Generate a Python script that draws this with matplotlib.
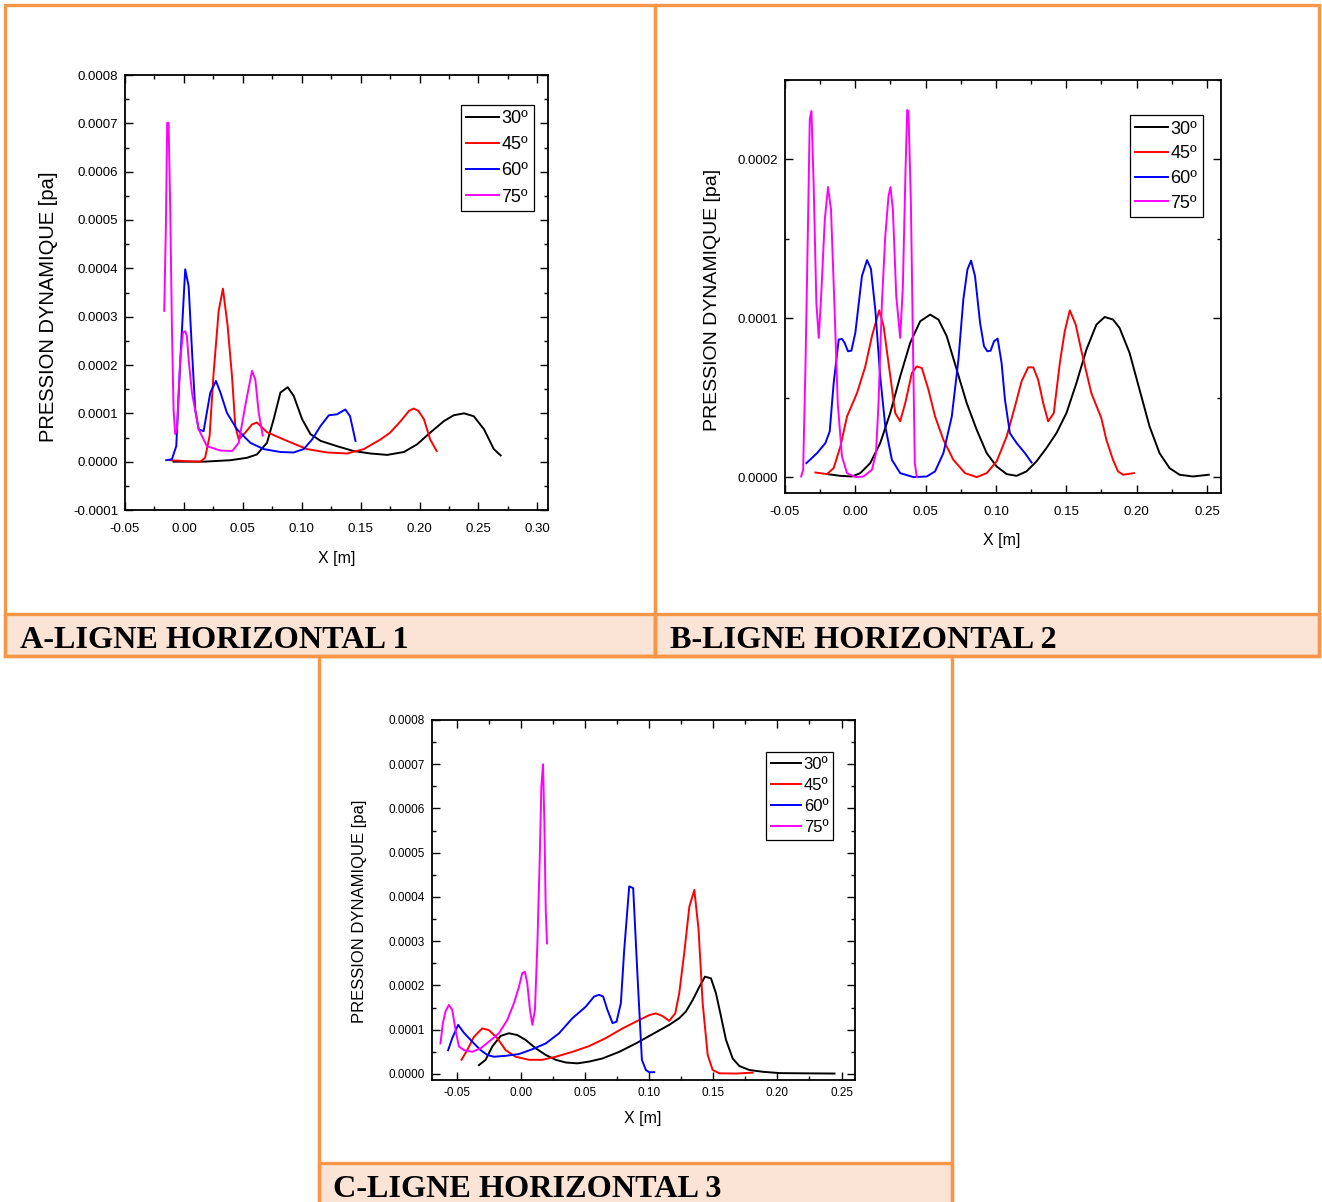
import matplotlib
matplotlib.use("Agg")
import matplotlib.pyplot as plt
from matplotlib.patches import Rectangle
from matplotlib.ticker import MultipleLocator, FormatStrFormatter

W, H = 1322, 1202
SCALE = 1e-4  # pressure values below are in units of 1e-4 pa

angles = ["30º", "45º", "60º", "75º"]
colors = ["black", "#ff0000", "#0000ff", "#ff00ff"]
captions = ["A-LIGNE HORIZONTAL 1", "B-LIGNE HORIZONTAL 2", "C-LIGNE HORIZONTAL 3"]

# ---- panel A : ligne horizontal 1
A_x30 = [-0.0088, 0.0167, 0.0394, 0.0535, 0.062, 0.0705, 0.0762, 0.0819, 0.0881, 0.0932, 0.1003, 0.1074, 0.116,
         0.130, 0.144, 0.158, 0.1725, 0.1867, 0.198, 0.209, 0.2207, 0.229, 0.2377, 0.246, 0.2547, 0.263, 0.2688]
A_y30 = [0, 0, 0.03, 0.08, 0.15, 0.39, 0.88, 1.43, 1.54, 1.36, 0.88, 0.57, 0.43,
         0.32, 0.22, 0.17, 0.14, 0.2, 0.36, 0.6, 0.84, 0.96, 1.0, 0.94, 0.67, 0.26, 0.13]
A_x45 = [-0.0122, 0.0026, 0.0139, 0.018, 0.0218, 0.025, 0.0295, 0.0331, 0.0371, 0.0408, 0.0436, 0.0465, 0.052,
         0.0578, 0.062, 0.0705, 0.0875, 0.1045, 0.1215, 0.1385, 0.1527, 0.1669, 0.175, 0.184, 0.191, 0.195,
         0.199, 0.2037, 0.209, 0.2145]
A_y45 = [0.03, 0.01, 0, 0.08, 0.53, 1.77, 3.12, 3.58, 2.81, 1.77, 0.74, 0.46, 0.6,
         0.77, 0.81, 0.61, 0.43, 0.26, 0.19, 0.17, 0.26, 0.46, 0.6, 0.84, 1.05, 1.10,
         1.05, 0.88, 0.46, 0.22]
A_x60 = [-0.015, -0.0102, -0.0065, -0.003, 0.0011, 0.004, 0.0068, 0.0096, 0.0125, 0.0167, 0.0224, 0.0272, 0.031,
         0.0365, 0.045, 0.0564, 0.0677, 0.082, 0.093, 0.1017, 0.1088, 0.116, 0.123, 0.130, 0.137, 0.141, 0.1456]
A_y60 = [0.03, 0.05, 0.32, 2.12, 3.98, 3.63, 2.32, 1.08, 0.67, 0.63, 1.43, 1.67, 1.43,
         1.01, 0.67, 0.39, 0.26, 0.2, 0.19, 0.26, 0.46, 0.74, 0.96, 0.98, 1.08, 0.94, 0.43]
A_x75 = [-0.0167, -0.0153, -0.0142, -0.0130, -0.0116, -0.0102, -0.0088, -0.0074, -0.0059, -0.0045, -0.0031,
         -0.0008, 0.0011, 0.0025, 0.004, 0.0068, 0.0125, 0.0195, 0.031, 0.041, 0.0465, 0.052, 0.0578, 0.0606,
         0.0635, 0.0669]
A_y75 = [3.12, 4.88, 7.01, 7.01, 5.22, 2.81, 1.08, 0.57, 0.67, 1.43, 2.12,
         2.67, 2.70, 2.6, 2.12, 1.43, 0.67, 0.32, 0.23, 0.22, 0.39, 1.15, 1.88, 1.70,
         1.01, 0.54]

# ---- panel B : ligne horizontal 2
B_x30 = [-0.0201, -0.0106, -0.0024, 0.0035, 0.0106, 0.0177, 0.0248, 0.0319, 0.039, 0.0461, 0.0532, 0.0591, 0.065,
         0.0721, 0.0792, 0.0863, 0.0934, 0.1005, 0.1076, 0.1147, 0.1217, 0.1288, 0.1359, 0.143, 0.1501, 0.1572,
         0.1643, 0.1714, 0.1773, 0.1832, 0.1879, 0.195, 0.2021, 0.2092, 0.2163, 0.2234, 0.2305, 0.24, 0.2513]
B_y30 = [0.019, 0.008, 0.004, 0.025, 0.088, 0.214, 0.403, 0.634, 0.845, 0.981, 1.023, 0.992, 0.887,
         0.676, 0.466, 0.298, 0.151, 0.067, 0.019, 0.008, 0.036, 0.099, 0.183, 0.277, 0.403, 0.592,
         0.803, 0.96, 1.008, 0.992, 0.939, 0.782, 0.55, 0.319, 0.151, 0.057, 0.015, 0.004, 0.015]
B_x45 = [-0.0284, -0.0201, -0.0154, -0.0106, -0.0059, 0.0012, 0.0071, 0.0118, 0.017, 0.0201, 0.0236, 0.0284,
         0.0319, 0.0355, 0.0402, 0.0437, 0.0473, 0.052, 0.0567, 0.0626, 0.0697, 0.078, 0.0863, 0.0934, 0.1005,
         0.1076, 0.1135, 0.1182, 0.1229, 0.1265, 0.13, 0.1336, 0.1371, 0.1411, 0.1454, 0.1489, 0.1525, 0.1567,
         0.1608, 0.1678, 0.1749, 0.1785, 0.1832, 0.1868, 0.1903, 0.1981]
B_y45 = [0.029, 0.019, 0.057, 0.193, 0.382, 0.529, 0.697, 0.887, 1.05, 0.95, 0.718, 0.403,
         0.351, 0.466, 0.655, 0.697, 0.687, 0.55, 0.382, 0.235, 0.109, 0.025, 0.0, 0.025, 0.099,
         0.256, 0.445, 0.603, 0.691, 0.691, 0.613, 0.466, 0.351, 0.403, 0.718, 0.918, 1.05, 0.96,
         0.792, 0.529, 0.372, 0.235, 0.109, 0.036, 0.015, 0.025]
B_x60 = [-0.0348, -0.0272, -0.0213, -0.0182, -0.0154, -0.0118, -0.0095, -0.0076, -0.0052, -0.0028, 0.0, 0.0047,
         0.0083, 0.0111, 0.0142, 0.0177, 0.0213, 0.026, 0.0319, 0.0414, 0.0508, 0.0567, 0.0626, 0.0686, 0.0733,
         0.0768, 0.0797, 0.0823, 0.0851, 0.0887, 0.0915, 0.0939, 0.0962, 0.0986, 0.1012, 0.104, 0.1064, 0.1099,
         0.1147, 0.1206, 0.1253]
B_y60 = [0.088, 0.151, 0.214, 0.288, 0.592, 0.866, 0.87, 0.845, 0.792, 0.796, 0.908, 1.265,
         1.366, 1.311, 1.055, 0.634, 0.319, 0.109, 0.025, 0.0, 0.004, 0.036, 0.151, 0.382, 0.739,
         1.118, 1.307, 1.363, 1.265, 0.971, 0.824, 0.792, 0.796, 0.855, 0.872, 0.718, 0.487, 0.277,
         0.214, 0.151, 0.092]
B_x75 = [-0.0385, -0.0371, -0.0355, -0.0338, -0.0324, -0.0312, -0.0296, -0.0277, -0.026, -0.0243, -0.0217,
         -0.0194, -0.0173, -0.0149, -0.0125, -0.0095, -0.0059, 0.0, 0.0059, 0.0118, 0.0147, 0.0165, 0.0189,
         0.0213, 0.0236, 0.025, 0.0267, 0.0291, 0.0319, 0.0338, 0.0357, 0.0369, 0.0378, 0.0395, 0.0409,
         0.0423, 0.0437]
B_y75 = [0.004, 0.046, 0.676, 1.517, 2.252, 2.305, 1.832, 1.097, 0.876, 1.139, 1.622,
         1.826, 1.685, 1.097, 0.466, 0.13, 0.025, 0.0, 0.004, 0.046, 0.151, 0.466, 1.097,
         1.517, 1.769, 1.826, 1.685, 1.139, 0.876, 1.202, 1.937, 2.311, 2.305, 1.727, 0.887,
         0.088, 0.0]

# ---- panel C : ligne horizontal 3
C_x30 = [-0.0328, -0.0276, -0.0224, -0.0159, -0.0094, -0.0029, 0.0036, 0.0115, 0.0193, 0.0271, 0.0349, 0.044,
         0.0531, 0.0635, 0.0766, 0.0896, 0.1026, 0.1156, 0.1234, 0.1286, 0.1339, 0.1391, 0.1435, 0.1482, 0.1521,
         0.156, 0.1599, 0.1651, 0.1703, 0.1781, 0.1885, 0.2016, 0.2198, 0.2445]
C_y30 = [0.2, 0.32, 0.62, 0.86, 0.92, 0.88, 0.77, 0.58, 0.43, 0.32, 0.26, 0.24,
         0.28, 0.35, 0.5, 0.69, 0.9, 1.11, 1.26, 1.41, 1.67, 1.97, 2.2, 2.16, 1.82,
         1.3, 0.77, 0.35, 0.18, 0.09, 0.05, 0.02, 0.015, 0.01]
C_x45 = [-0.0464, -0.0419, -0.0367, -0.0302, -0.025, -0.0185, -0.012, -0.0042, 0.0063, 0.0167, 0.0271, 0.0401,
         0.0531, 0.0661, 0.0792, 0.0922, 0.1, 0.1052, 0.1104, 0.1156, 0.1203, 0.1234, 0.1273, 0.1313, 0.1352,
         0.1385, 0.1417, 0.1456, 0.1495, 0.1547, 0.1677, 0.1807]
C_y45 = [0.32, 0.54, 0.84, 1.03, 0.99, 0.81, 0.54, 0.39, 0.32, 0.32, 0.39, 0.5,
         0.63, 0.81, 1.03, 1.22, 1.33, 1.37, 1.31, 1.2, 1.37, 1.82, 2.73, 3.78, 4.16,
         3.26, 1.6, 0.43, 0.09, 0.015, 0.01, 0.03]
C_x60 = [-0.0568, -0.0536, -0.049, -0.0445, -0.038, -0.0315, -0.0263, -0.0211, -0.012, -0.0016, 0.0089, 0.0193,
         0.0297, 0.0401, 0.0505, 0.057, 0.0609, 0.0641, 0.0674, 0.0714, 0.0745, 0.0779, 0.0805, 0.0844, 0.0875,
         0.0909, 0.0943, 0.0974, 0.1, 0.1039]
C_y60 = [0.54, 0.81, 1.11, 0.93, 0.73, 0.54, 0.43, 0.39, 0.41, 0.45, 0.56, 0.69,
         0.92, 1.26, 1.52, 1.75, 1.79, 1.75, 1.45, 1.15, 1.18, 1.6, 2.8, 4.24, 4.2,
         2.2, 0.32, 0.09, 0.04, 0.04]
C_x75 = [-0.0628, -0.0609, -0.0589, -0.0563, -0.0536, -0.051, -0.0484, -0.0445, -0.038, -0.0315, -0.025, -0.0172,
         -0.0107, -0.0055, -0.0016, 0.001, 0.0031, 0.0049, 0.007, 0.0089, 0.0109, 0.0128, 0.0146, 0.0159, 0.0172,
         0.0182, 0.0193, 0.0203]
C_y75 = [0.69, 1.15, 1.41, 1.56, 1.45, 0.99, 0.62, 0.54, 0.5, 0.58, 0.73, 0.92,
         1.22, 1.6, 1.97, 2.28, 2.31, 2.05, 1.45, 1.11, 1.45, 2.95, 4.84, 6.5, 7.0,
         5.74, 3.71, 2.95]

SANS = ["Liberation Sans", "DejaVu Sans"]
ORANGE = "#f79646"
PEACH = "#fbe4d5"


def fig_rect(x0, y0, x1, y1):
    # pixel box (top-left origin) -> figure fraction rect
    return [x0 / W, 1 - y1 / H, (x1 - x0) / W, (y1 - y0) / H]


def make_panel(fig, box, series, xlim, ylim, ticksize, xpad,
               ylab_pos, xlab_pos, ylab_size, leg_anchor, leg_size, leg_spacing):
    ax = fig.add_axes(fig_rect(*box))
    for (xs, ys), lab, col in zip(series, angles, colors):
        ax.plot(xs, [v * SCALE for v in ys], color=col, lw=1.4, label=lab)
    ax.set_xlim(*xlim)
    ax.set_ylim(*ylim)
    ax.xaxis.set_major_locator(MultipleLocator(0.05))
    ax.xaxis.set_minor_locator(MultipleLocator(0.025))
    ax.yaxis.set_major_locator(MultipleLocator(0.0001))
    ax.yaxis.set_minor_locator(MultipleLocator(0.00005))
    ax.xaxis.set_major_formatter(FormatStrFormatter("%.2f"))
    ax.yaxis.set_major_formatter(FormatStrFormatter("%.4f"))
    ax.tick_params(which="both", direction="in", top=True, right=True, width=1.0)
    ax.tick_params(which="major", length=6, pad=5)
    ax.tick_params(axis="x", which="major", pad=xpad)
    ax.tick_params(which="minor", length=3)
    for lbl in ax.get_xticklabels() + ax.get_yticklabels():
        lbl.set_family(SANS)
        lbl.set_fontsize(ticksize)
    for sp in ax.spines.values():
        sp.set_linewidth(1.3)

    ax.set_ylabel("PRESSION DYNAMIQUE [pa]", family=SANS, fontsize=ylab_size)
    ax.yaxis.set_label_coords(*ylab_pos)
    ax.set_xlabel("X [m]", family=SANS, fontsize=11.5)
    ax.xaxis.set_label_coords(*xlab_pos)

    leg = ax.legend(loc="upper left", bbox_to_anchor=leg_anchor, borderaxespad=0,
                    fancybox=False, framealpha=1, edgecolor="black",
                    prop={"family": SANS, "size": leg_size},
                    handlelength=1.8, handletextpad=0.15, labelspacing=leg_spacing,
                    borderpad=0.3)
    leg.get_frame().set_linewidth(0.9)
    return ax


fig = plt.figure(figsize=(W / 100, H / 100), dpi=100)

# orange frames and caption bands
def add_box(x0, y0, x1, y1, fill=None):
    r = fig_rect(x0, y0, x1, y1)
    fig.add_artist(Rectangle((r[0], r[1]), r[2], r[3], transform=fig.transFigure,
                             facecolor=fill if fill else "none", edgecolor=ORANGE,
                             lw=2.4, zorder=0))

add_box(5, 614, 655, 656, PEACH)
add_box(655, 614, 1319, 656, PEACH)
add_box(319, 1163, 952, 1210, PEACH)
add_box(5, 5, 655, 656)
add_box(655, 5, 1319, 656)
add_box(319, 656, 952, 1210)

for text, (tx, ty) in zip(captions, [(20, 648), (670, 648), (333, 1197)]):
    fig.text(tx / W, 1 - ty / H, text, family=["Liberation Serif", "DejaVu Serif"],
             weight="bold", fontsize=23.2, va="baseline", ha="left")

make_panel(fig, (125, 75, 548, 510),
           [(A_x30, A_y30), (A_x45, A_y45), (A_x60, A_y60), (A_x75, A_y75)],
           (-0.05, 0.309), (-0.0001, 0.0008), 9.5, 9,
           (-0.158, 0.467), (0.501, -0.094), 14.5, (0.794, 0.931), 13, 0.5)

make_panel(fig, (785, 80, 1221, 493),
           [(B_x30, B_y30), (B_x45, B_y45), (B_x60, B_y60), (B_x75, B_y75)],
           (-0.05, 0.26), (-0.00001, 0.00025), 9.5, 9,
           (-0.146, 0.467), (0.498, -0.097), 14, (0.791, 0.915), 13, 0.43)

make_panel(fig, (432, 720, 855, 1080),
           [(C_x30, C_y30), (C_x45, C_y45), (C_x60, C_y60), (C_x75, C_y75)],
           (-0.0694, 0.2605), (-0.0000136, 0.0008), 8.5, 5,
           (-0.153, 0.469), (0.499, -0.086), 12, (0.790, 0.911), 12, 0.35)

fig.savefig("out.png", dpi=100)
